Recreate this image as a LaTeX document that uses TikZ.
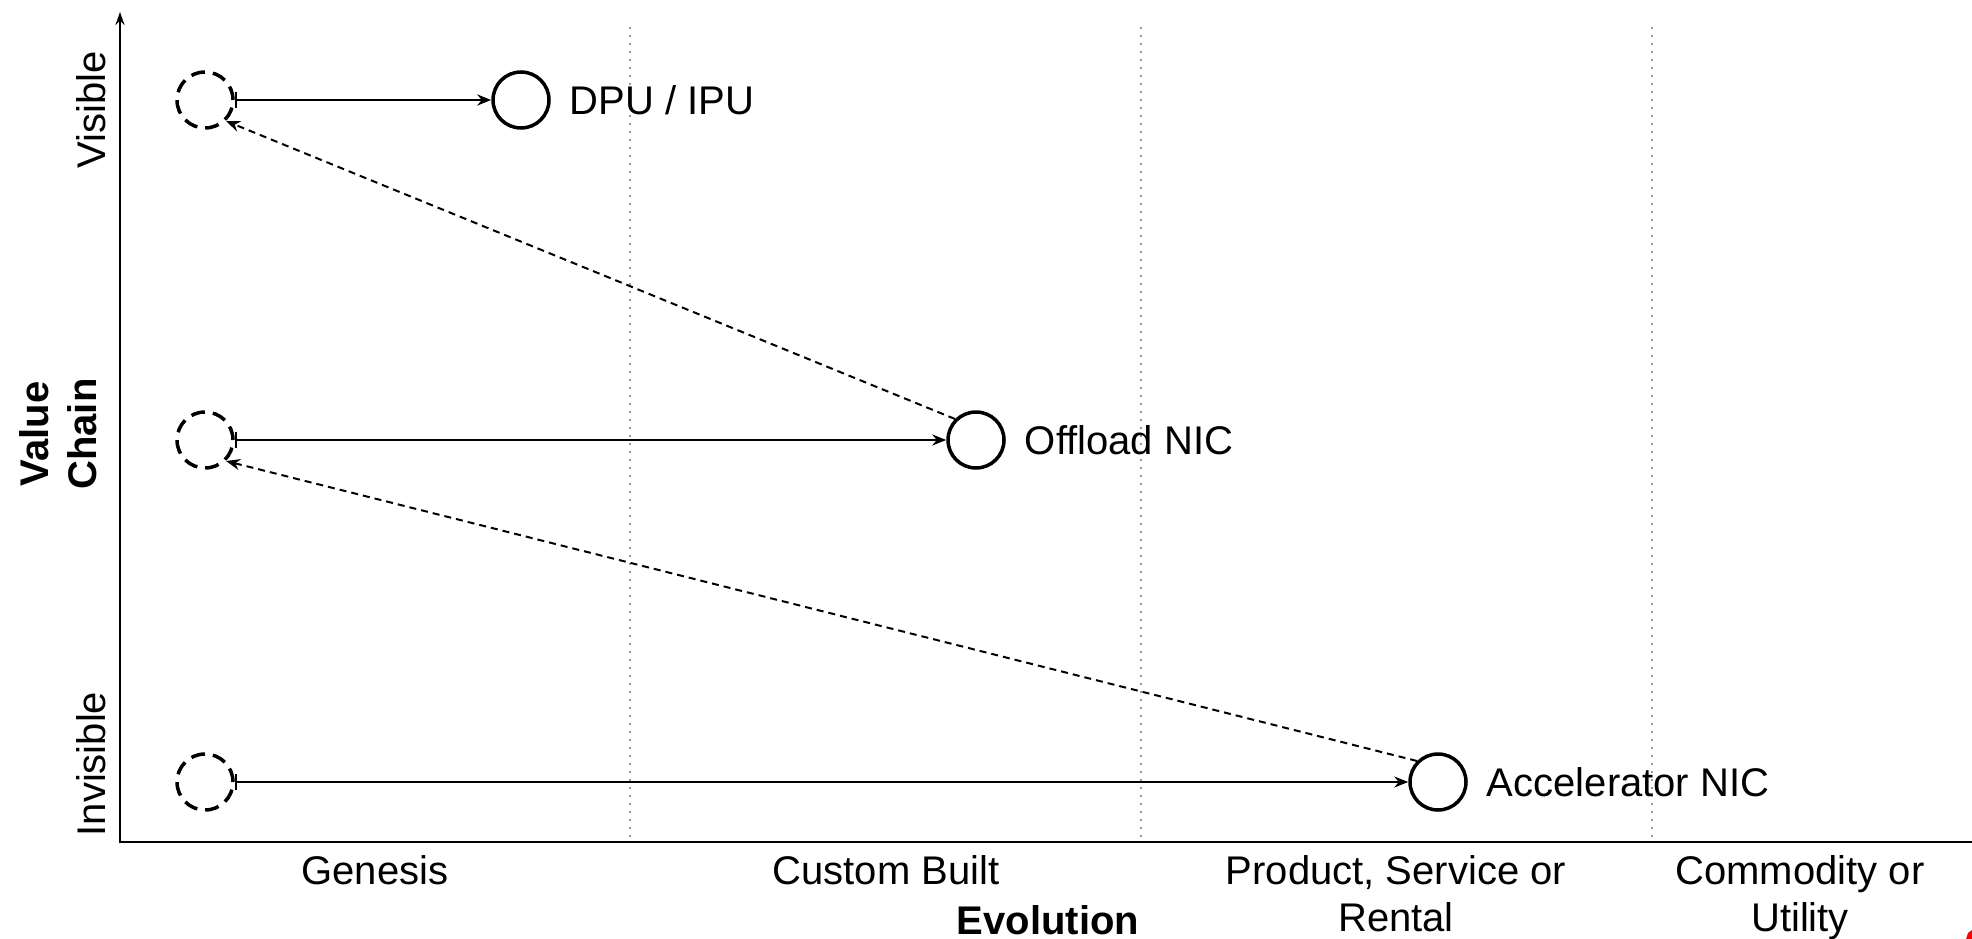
\documentclass[tikz,border=0pt]{standalone}
\usepackage{fontspec}
\setmainfont{Liberation Sans}
\usetikzlibrary{arrows.meta}
\begin{document}
\begin{tikzpicture}[x=1pt,y=-1pt,
  font=\fontsize{40}{47}\selectfont,
  comp/.style={circle,draw,line width=3.5pt,minimum size=56pt,inner sep=0pt},
  ghost/.style={comp,dash pattern=on 14pt off 8pt},
  evo/.style={draw,line width=2pt,{Bar[width=16pt]}-{Stealth[length=14pt,width=11pt]}},
  inert/.style={draw,line width=2pt,dash pattern=on 7pt off 5pt,-{Stealth[length=14pt,width=11pt]}},
  gridline/.style={draw=black!40,line width=2pt,dash pattern=on 2pt off 6pt},
  axisline/.style={draw,line width=2pt,-{Stealth[length=13pt,width=9pt]}},
  lbl/.style={anchor=west,inner sep=0pt},
  stage/.style={anchor=north,inner sep=0pt,align=center},
  vlbl/.style={rotate=90,anchor=base,inner sep=0pt},
  bold/.style={font=\fontsize{40}{48}\selectfont\bfseries}
]
\useasboundingbox (0,0) rectangle (1972,939);

% grid lines
\coordinate (ga1) at (630,27);  \coordinate (gb1) at (630,842);
\coordinate (ga2) at (1141,27); \coordinate (gb2) at (1141,842);
\coordinate (ga3) at (1652,27); \coordinate (gb3) at (1652,842);
\draw[gridline] (ga1) -- (gb1);
\draw[gridline] (ga2) -- (gb2);
\draw[gridline] (ga3) -- (gb3);

% axes
\coordinate (o) at (120,842);
\coordinate (ytop) at (120,12);
\coordinate (xend) at (1972,842);
\draw[axisline] (xend) -- (o) -- (ytop);

% components
\node[ghost] (g1) at (205,100) {};
\node[ghost] (g2) at (205,440) {};
\node[ghost] (g3) at (205,782) {};
\node[comp] (dpu) at (521,100) {};
\node[comp] (off) at (976,440) {};
\node[comp] (acc) at (1438,782) {};

\node[lbl] (tdpu) at ([xshift=19pt]dpu.east) {DPU / IPU};
\node[lbl] (toff) at ([xshift=19pt]off.east) {Offload NIC};
\node[lbl] (tacc) at ([xshift=19pt]acc.east) {Accelerator NIC};

% evolution arrows
\draw[evo] (g1.east) -- (dpu.west);
\draw[evo] (g2.east) -- (off.west);
\draw[evo] (g3.east) -- (acc.west);

% inertia / dependency arrows
\draw[inert] (off.135) -- (g1.-45);
\draw[inert] (acc.135) -- (g2.-45);

% axis labels
\node[vlbl] (vis) at (105,110) {Visible};
\node[vlbl] (invis) at (105,764) {Invisible};
\node[rotate=90,anchor=center,inner sep=0pt,align=center,bold] (vc) at (58,434) {Value\\Chain};

\node[stage] (s1) at (375,855) {Genesis};
\node[stage] (s2) at (886,855) {Custom Built};
\node[stage] (s3) at (1396,855) {Product, Service or\\Rental};
\node[stage] (s4) at (1800,855) {Commodity or\\Utility};
\node[anchor=base,inner sep=0pt,bold] (evol) at (1048,934) {Evolution};

% corner fragment
\fill[red] (1966,939) -- (1968,933) -- (1972,930) -- (1972,939) -- cycle;
\end{tikzpicture}
\end{document}
